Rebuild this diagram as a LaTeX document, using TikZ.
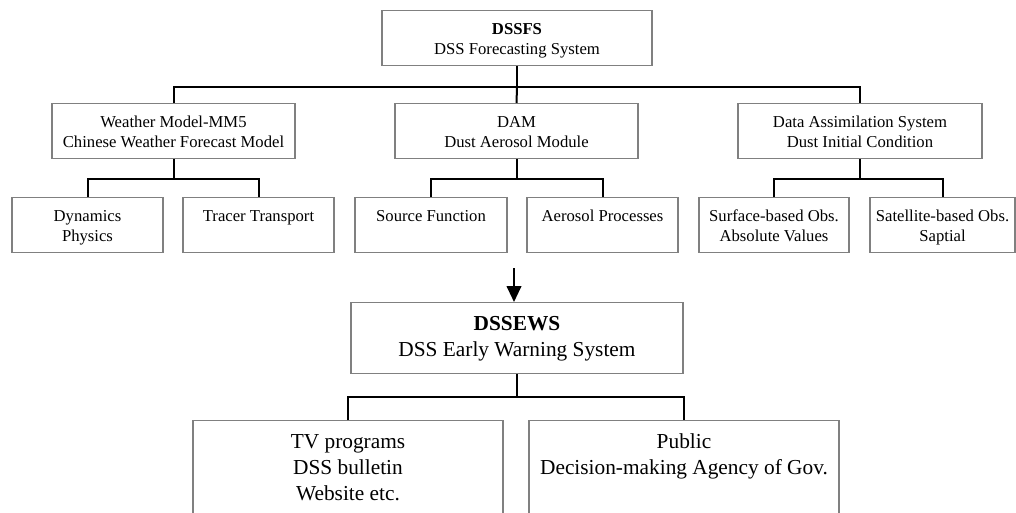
\documentclass[tikz,border=0pt]{standalone}
\usepackage{fontspec}
\setmainfont{Liberation Serif}
\usetikzlibrary{arrows.meta}
\def\px{0.75pt}
\definecolor{boxgray}{RGB}{128,128,128}
\tikzset{
smallbox/.style={draw=boxgray, line width=1.1pt, inner sep=0pt, align=center, anchor=north,
  font=\fontsize{12.5}{15}\selectfont, text height=32.5pt, text depth=8.5pt},
oneline/.style={text height=17.5pt, text depth=23.5pt},
bigbox/.style={draw=boxgray, line width=1.1pt, inner sep=0pt, align=center, anchor=north,
  font=\fontsize{16}{19.5}\selectfont},
link/.style={line width=1.5pt},
arr/.style={line width=1.5pt, -{Triangle[length=12pt,width=11pt]}}
}
\begin{document}
\begin{tikzpicture}[x=0.75pt, y=-0.75pt]
\useasboundingbox (0,0) rectangle (1016,513);
\clip (0,0) rectangle (1016,513);

\node[smallbox, minimum width=270*\px] (dssfs) at (517,10) {\textbf{DSSFS}\\DSS Forecasting System};

\node[smallbox, minimum width=243*\px] (wmm5) at (173.5,103) {Weather Model-MM5\\Chinese Weather Forecast Model};
\node[smallbox, minimum width=243*\px] (dam) at (516.5,103) {DAM\\Dust Aerosol Module};
\node[smallbox, minimum width=244*\px] (das) at (860,103) {Data Assimilation System\\Dust Initial Condition};

\node[smallbox, minimum width=151*\px] (dyn) at (87.5,197) {Dynamics\\Physics};
\node[smallbox, oneline, minimum width=151*\px] (tracer) at (258.5,197) {Tracer Transport};
\node[smallbox, oneline, minimum width=152*\px] (source) at (431,197) {Source Function};
\node[smallbox, oneline, minimum width=151*\px] (aeroproc) at (602.5,197) {Aerosol Processes};
\node[smallbox, minimum width=150*\px] (surface) at (774,197) {Surface-based Obs.\\Absolute Values};
\node[smallbox, minimum width=145*\px] (satellite) at (942.5,197) {Satellite-based Obs.\\Saptial};

\node[bigbox, minimum width=332*\px, text height=40.5pt, text depth=12.75pt] (ews) at (517,302) {\textbf{DSSEWS}\\DSS Early Warning System};
\node[bigbox, minimum width=310*\px, text height=59.5pt, text depth=40pt] (tv) at (348,420) {TV programs\\DSS bulletin\\Website etc.};
\node[bigbox, minimum width=310*\px, text height=40pt, text depth=60pt] (public) at (684,420) {Public\\Decision-making Agency of Gov.};

\draw[link] (dssfs.south) -- ++(0,21) coordinate (bus1);
\draw[link] (wmm5.north) |- (bus1) -| (das.north);
\draw[link] (bus1) -- (dam.north);

\draw[link] (wmm5.south) -- ++(0,20) coordinate (wbus);
\draw[link] (dyn.north) |- (wbus) -| (tracer.north);
\draw[link] (dam.south) -- ++(0,20) coordinate (dbus);
\draw[link] (source.north) |- (dbus) -| (aeroproc.north);
\draw[link] (das.south) -- ++(0,20) coordinate (abus);
\draw[link] (surface.north) |- (abus) -| (satellite.north);

\coordinate (arrtop) at (514,268);
\draw[arr] (arrtop) -- (arrtop |- ews.north);

\draw[link] (ews.south) -- ++(0,23) coordinate (ebus);
\draw[link] (tv.north) |- (ebus) -| (public.north);
\end{tikzpicture}
\end{document}
